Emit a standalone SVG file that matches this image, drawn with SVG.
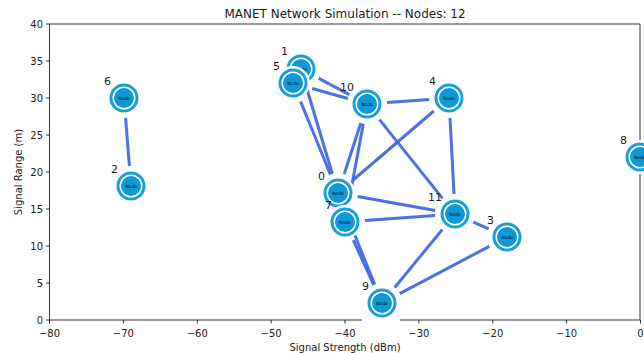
<svg xmlns="http://www.w3.org/2000/svg" width="644" height="353" viewBox="0 0 644 353">
<style>
text{font-family:"DejaVu Sans","Liberation Sans",sans-serif;fill:#1a1a1a}
.tick{font-size:10px}
.lbl{font-size:11px;text-anchor:end}
.nodo{font-size:4.5px;text-anchor:middle;fill:#000}
.halo{fill:#fff}
.ring{fill:none;stroke:#189fd9;stroke-width:3}
.core{fill:#0b99d7}
.edge{stroke:#4169e1;stroke-width:3;stroke-opacity:0.95;fill:none}
.ax{stroke:#000;stroke-width:0.8;fill:none}
</style>
<defs>
<g id="nd">
<circle class="halo" r="17"/>
<circle class="ring" r="13"/>
<circle class="core" r="10"/>
<text class="nodo" y="1.6">Nodo</text>
</g>
</defs>
<rect width="644" height="353" fill="#fff"/>
<text x="345" y="18" font-size="12" text-anchor="middle">MANET Network Simulation -- Nodes: 12</text>
<g id="axes">
<path class="ax" d="M49.5,24 V320 M49.5,24 H640 V320 M49.5,320 H362 M400,320 H640"/>
<path class="ax" d="M49.5,320 v3.5 M123.4,320 v3.5 M197.3,320 v3.5 M271.1,320 v3.5 M345,320 v3.5 M418.9,320 v3.5 M492.8,320 v3.5 M566.6,320 v3.5 M640.5,320 v3.5"/>
<path class="ax" d="M49.5,320 h-3.5 M49.5,283 h-3.5 M49.5,246 h-3.5 M49.5,209 h-3.5 M49.5,172 h-3.5 M49.5,135 h-3.5 M49.5,98 h-3.5 M49.5,61 h-3.5 M49.5,24 h-3.5"/>
<g class="tick" text-anchor="middle">
<text x="49.5" y="337">−80</text><text x="123.4" y="337">−70</text><text x="197.3" y="337">−60</text><text x="271.1" y="337">−50</text><text x="345" y="337">−40</text><text x="418.9" y="337">−30</text><text x="492.8" y="337">−20</text><text x="566.6" y="337">−10</text><text x="640.5" y="337">0</text>
</g>
<g class="tick" text-anchor="end">
<text x="43" y="323.5">0</text><text x="43" y="286.5">5</text><text x="43" y="249.5">10</text><text x="43" y="212.5">15</text><text x="43" y="175.5">20</text><text x="43" y="138.5">25</text><text x="43" y="101.5">30</text><text x="43" y="64.5">35</text><text x="43" y="27.5">40</text>
</g>
<text x="345" y="351" font-size="10" text-anchor="middle">Signal Strength (dBm)</text>
<text transform="translate(22,172) rotate(-90)" font-size="10" text-anchor="middle">Signal Range (m)</text>
</g>
<g id="edges">
<line class="edge" x1="125.6" y1="117.9" x2="129.4" y2="166.1"/>
<line class="edge" x1="318.7" y1="78.4" x2="349.3" y2="94.6"/>
<line class="edge" x1="312.2" y1="88.5" x2="347.8" y2="98.5"/>
<line class="edge" x1="306.7" y1="88.2" x2="332.3" y2="173.8"/>
<line class="edge" x1="300.6" y1="101.5" x2="330.4" y2="174.5"/>
<line class="edge" x1="360.8" y1="123.0" x2="344.2" y2="174.0"/>
<line class="edge" x1="363.3" y1="123.7" x2="348.7" y2="202.3"/>
<line class="edge" x1="387.0" y1="102.5" x2="429.1" y2="99.5"/>
<line class="edge" x1="379.5" y1="119.6" x2="442.5" y2="198.4"/>
<line class="edge" x1="433.8" y1="111.0" x2="353.2" y2="180.0"/>
<line class="edge" x1="450.0" y1="118.0" x2="454.0" y2="194.0"/>
<line class="edge" x1="357.7" y1="196.5" x2="435.3" y2="210.5"/>
<line class="edge" x1="365.0" y1="220.5" x2="435.1" y2="215.5"/>
<line class="edge" x1="473.3" y1="222.1" x2="488.7" y2="228.9"/>
<line class="edge" x1="442.3" y1="229.5" x2="394.7" y2="287.5"/>
<line class="edge" x1="489.3" y1="246.3" x2="399.7" y2="293.7"/>
<line class="edge" x1="345.4" y1="211.6" x2="374.6" y2="284.4"/>
<line class="edge" x1="353.3" y1="240.2" x2="373.7" y2="284.8"/>
</g>
<g id="node0"><use href="#nd" x="338" y="193"/><text class="lbl" x="325" y="180">0</text></g>
<g id="node1"><use href="#nd" x="301" y="69"/><text class="lbl" x="288" y="55">1</text></g>
<g id="node2"><use href="#nd" x="131" y="186"/><text class="lbl" x="118" y="173">2</text></g>
<g id="node3"><use href="#nd" x="507" y="237"/><text class="lbl" x="494" y="224">3</text></g>
<g id="node4"><use href="#nd" x="449" y="98"/><text class="lbl" x="436" y="85">4</text></g>
<g id="node5"><use href="#nd" x="293" y="83"/><text class="lbl" x="280" y="70">5</text></g>
<g id="node6"><use href="#nd" x="124" y="98"/><text class="lbl" x="111" y="85">6</text></g>
<g id="node7"><use href="#nd" x="345" y="222"/><text class="lbl" x="332" y="209">7</text></g>
<g id="node8"><use href="#nd" x="640" y="157"/><text class="lbl" x="627" y="144">8</text></g>
<g id="node9"><use href="#nd" x="382" y="303"/><text class="lbl" x="369" y="290">9</text></g>
<g id="node10"><use href="#nd" x="367" y="104"/><text class="lbl" x="354" y="91">10</text></g>
<g id="node11"><use href="#nd" x="455" y="214"/><text class="lbl" x="442" y="201">11</text></g>
</svg>
